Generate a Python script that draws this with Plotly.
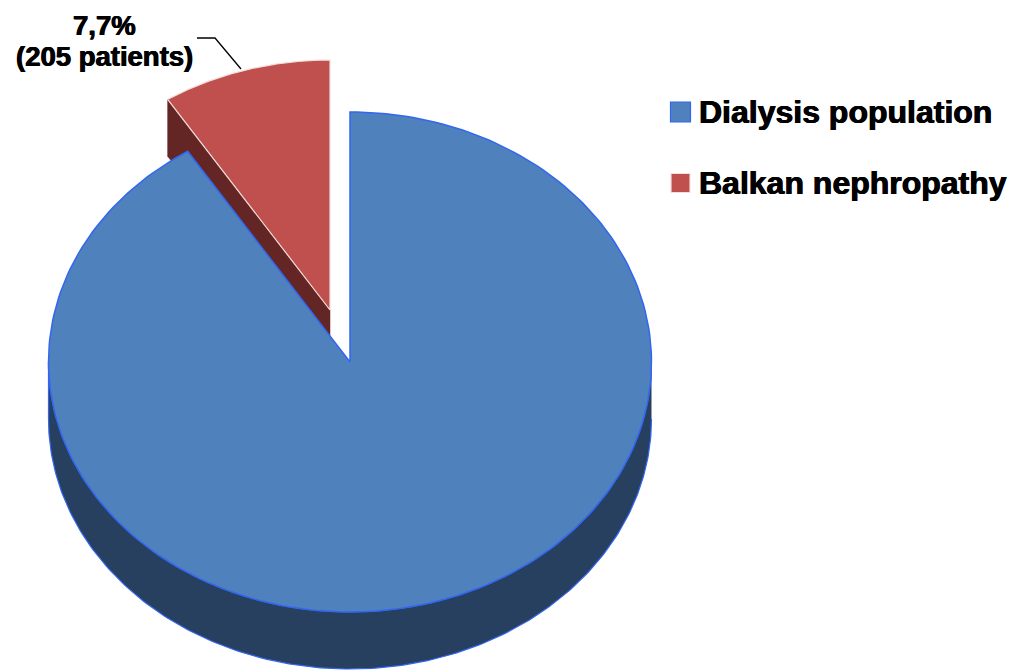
import numpy as np
import plotly.graph_objects as go

# Data
categories = ["Dialysis population", "Balkan nephropathy"]
drawn_shares = [90.95, 9.05]  # share of the turn as drawn in the picture
label_percent = "7,7%"
label_patients = "(205 patients)"

# Styles
top_colors = ["#4F81BD", "#C0504D"]
side_colors = ["#27405F", "#632625"]
edge_colors = ["#3366F0", "#F3DEDD"]
FONT = "Liberation Sans, Arial, sans-serif"
HEAVY = "0.5px 0 0 #000, -0.5px 0 0 #000"

# Pie geometry in page pixels
CX, CY, RX, RY, DEPTH = 350.0, 362.0, 301.5, 250.0, 57.0
EXPLODE_X, EXPLODE_Y = -20.0, -52.0

red_turn = 360.0 * drawn_shares[1] / sum(drawn_shares)


def arc(cx, cy, start, end, n=240):
    t = np.radians(np.linspace(start, end, n))
    return cx + RX * np.sin(t), cy - RY * np.cos(t)


def wedge(cx, cy, start, end):
    x, y = arc(cx, cy, start, end)
    return np.r_[cx, x, cx], np.r_[cy, y, cy]


fig = go.Figure()


def poly(x, y, fill, edge, width):
    fig.add_trace(go.Scatter(x=x, y=y, mode="lines", fill="toself", fillcolor=fill,
                             line=dict(color=edge, width=width), hoverinfo="skip",
                             showlegend=False))


# Balkan nephropathy slice: cut wall, then top
rcx, rcy = CX + EXPLODE_X, CY + EXPLODE_Y
cx_, cy_ = arc(rcx, rcy, -red_turn, -red_turn, 1)
poly(np.r_[cx_, rcx, rcx, cx_, cx_], np.r_[cy_, rcy, rcy + DEPTH, cy_ + DEPTH, cy_],
     side_colors[1], side_colors[1], 0.5)
wx, wy = wedge(rcx, rcy, -red_turn, 0)
poly(wx, wy, top_colors[1], edge_colors[1], 1.2)

# Dialysis population slice: outer wall, then top
x1, y1 = arc(CX, CY + DEPTH, 90, 270)
x2, y2 = arc(CX, CY, 270, 90)
poly(np.r_[x1, x2], np.r_[y1, y2], side_colors[0], edge_colors[0], 1.2)
bx, by = wedge(CX, CY, 0, 360 - red_turn)
poly(bx, by, top_colors[0], edge_colors[0], 1.5)

# Leader line of the data label
fig.add_trace(go.Scatter(x=[197, 215, 241], y=[38, 38, 69], mode="lines",
                         line=dict(color="#000000", width=1.3), hoverinfo="skip", showlegend=False))

# Key
key_y = [112, 183]
for name, col, edge, ky, size in zip(categories, top_colors, edge_colors, key_y, [20, 19]):
    fig.add_trace(go.Scatter(x=[680.5], y=[ky], mode="markers", hoverinfo="skip", showlegend=False,
                             marker=dict(symbol="square", size=size, color=col,
                                         line=dict(color=edge, width=1.2))))
    fig.add_annotation(x=697, y=ky, text=f"<b>{name}</b>", showarrow=False, xanchor="left",
                       yanchor="middle",
                       font=dict(family=FONT, size=32, color="#000000", shadow=HEAVY))

# Data label
fig.add_annotation(x=104, y=25, text=f"<b>{label_percent}</b>", showarrow=False,
                   font=dict(family=FONT, size=27.5, color="#000000", shadow=HEAVY))
fig.add_annotation(x=104, y=56, text=f"<b>{label_patients}</b>", showarrow=False,
                   font=dict(family=FONT, size=27.5, color="#000000", shadow=HEAVY))

fig.update_layout(
    width=1014, height=670, margin=dict(l=0, r=0, t=0, b=0),
    paper_bgcolor="white", plot_bgcolor="white", showlegend=False,
    xaxis=dict(range=[0, 1014], visible=False, fixedrange=True),
    yaxis=dict(range=[670, 0], visible=False, fixedrange=True),
)
fig.write_html("out.html", config={"displayModeBar": False},
               post_script="document.body.style.margin='0';document.body.style.overflow='hidden';")
